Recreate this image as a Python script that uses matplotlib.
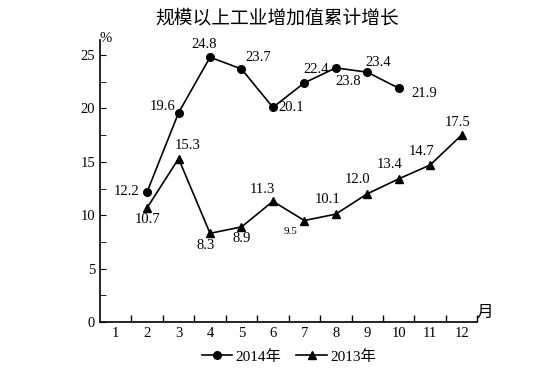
import matplotlib.pyplot as plt
from matplotlib.ticker import MultipleLocator, FixedLocator

plt.rcParams['font.family'] = ['Liberation Serif', 'Noto Sans CJK SC']

months = list(range(1, 13))
months_2014 = [2, 3, 4, 5, 6, 7, 8, 9, 10]
growth_2014 = [12.2, 19.6, 24.8, 23.7, 20.1, 22.4, 23.8, 23.4, 21.9]
months_2013 = [2, 3, 4, 5, 6, 7, 8, 9, 10, 11, 12]
growth_2013 = [10.7, 15.3, 8.3, 8.9, 11.3, 9.5, 10.1, 12.0, 13.4, 14.7, 17.5]

# label offsets in pixels (dx, dy), converted to points below
off_2014 = [(-21, 0), (-16, 6), (-6, 13), (17, 11), (18, 0), (12, 13), (12, -14), (11, 10), (26, -5)]
off_2013 = [(0, -12), (9, 13), (-4, -12), (0, -12), (-11, 12), (-14, -11), (-8, 15), (-10, 14), (-9, 14), (-9, 14), (-4, 13)]

fig = plt.figure(figsize=(5.54, 3.86), dpi=100)
ax = fig.add_axes([0.1805, 0.166, 0.681, 0.73])

ax.plot(months_2014, growth_2014, color='black', lw=1.2, marker='o', ms=5.5, label='2014年')
ax.plot(months_2013, growth_2013, color='black', lw=1.2, marker='^', ms=6, label='2013年')

for x, y, (dx, dy) in zip(months_2014, growth_2014, off_2014):
    ax.annotate(f'{y:.1f}', (x, y), xytext=(dx * 0.72, dy * 0.72), textcoords='offset points',
                ha='center', va='center', fontsize=10.5)
for x, y, (dx, dy) in zip(months_2013, growth_2013, off_2013):
    fs = 8 if y == 9.5 else 10.5
    ax.annotate(f'{y:.1f}', (x, y), xytext=(dx * 0.72, dy * 0.72), textcoords='offset points',
                ha='center', va='center', fontsize=fs)

ax.set_xlim(0.5, 12.5)
ax.set_ylim(0, 26.4)
ax.spines['top'].set_visible(False)
ax.spines['right'].set_visible(False)
ax.spines['left'].set_linewidth(1.2)
ax.spines['bottom'].set_linewidth(1.2)

ax.yaxis.set_major_locator(MultipleLocator(5))
ax.yaxis.set_minor_locator(MultipleLocator(2.5))
ax.tick_params(axis='y', which='both', direction='in', length=4, labelsize=10.5)
ax.xaxis.set_major_locator(FixedLocator(months))
ax.xaxis.set_minor_locator(FixedLocator([m + 0.5 for m in months]))
ax.tick_params(axis='x', which='major', length=0, labelsize=10.5, pad=4)
ax.tick_params(axis='x', which='minor', direction='in', length=5, width=1)

ax.text(0.016, 1.007, '%', transform=ax.transAxes, ha='center', va='center', fontsize=10.5)
ax.text(1.021, 0.032, '月', transform=ax.transAxes, ha='center', va='center', fontsize=12,
        fontweight='light')

fig.text(0.5, 0.953, '规模以上工业增加值累计增长', ha='center', va='center', fontsize=13.5,
         fontweight='light')

ax.legend(loc='center', bbox_to_anchor=(0.5, -0.124), ncol=2, frameon=False,
          fontsize=11, handlelength=2.0, columnspacing=1.0, handletextpad=0.2)

fig.savefig('out.png', dpi=100)
